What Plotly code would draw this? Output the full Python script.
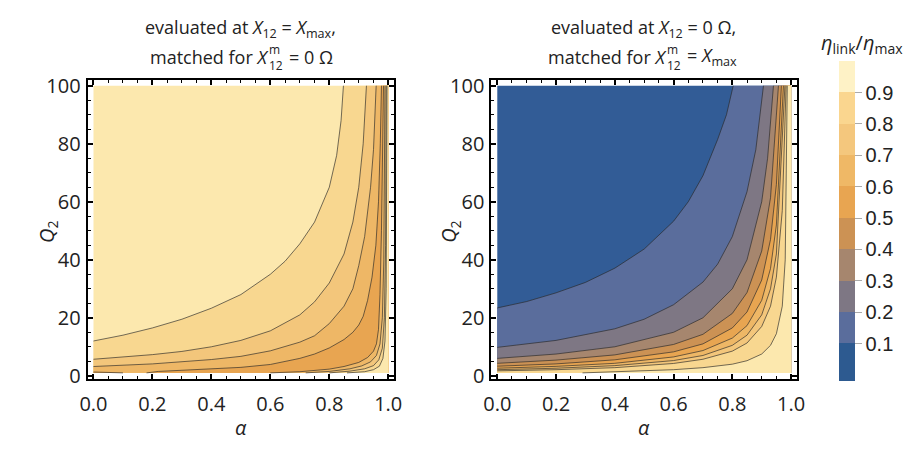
import plotly.graph_objects as go

# ---------------- data ----------------
levels = [0.1, 0.2, 0.3, 0.4, 0.5, 0.6, 0.7, 0.8, 0.9]
band_colors = ["#325C96", "#5A6D9C", "#7E7784", "#A6866E", "#CC9254",
               "#E8A551", "#EEB766", "#F3C67B", "#F8D790", "#FCE8AE"]
legend_colors = ["#2D5A90", "#5A6D9C", "#7E7784", "#A6866E", "#CC9254",
                 "#E8A551", "#EFB866", "#F4C77D", "#FAD68F", "#FEF2C6"]
alpha_lim = [0.0, 1.0]
q2_lim = [1.0, 100.0]

# left panel contours (alpha, Q2)
LA_a = [0.0, 0.1, 0.2, 0.3, 0.4, 0.5, 0.6, 0.65, 0.7, 0.75, 0.8, 0.825, 0.84, 0.848]
LA_q = [12.0, 14.0, 16.5, 19.5, 23.3, 28.0, 35.0, 39.5, 45.5, 53.0, 65.0, 76.0, 88.0, 100.0]
LB_a = [0.0, 0.1, 0.2, 0.3, 0.4, 0.5, 0.6, 0.7, 0.75, 0.8, 0.85, 0.88, 0.9, 0.915, 0.926]
LB_q = [5.7, 6.4, 7.3, 8.4, 10.0, 12.2, 15.5, 21.0, 25.5, 32.0, 42.0, 53.0, 65.0, 80.0, 100.0]
LC_a = [0.0, 0.2, 0.4, 0.5, 0.6, 0.7, 0.75, 0.8, 0.85, 0.88, 0.9, 0.92, 0.94, 0.95, 0.959]
LC_q = [3.2, 4.1, 5.6, 6.7, 8.6, 11.6, 13.8, 18.0, 24.0, 30.0, 38.0, 48.0, 65.0, 78.0, 100.0]
LD0_a = [0.0, 0.05, 0.1]
LD0_q = [1.3, 1.2, 1.0]
LD_a = [0.18, 0.22, 0.3, 0.4, 0.5, 0.6, 0.7, 0.75, 0.8, 0.85, 0.88, 0.9, 0.915, 0.93, 0.945, 0.958, 0.967, 0.973, 0.977]
LD_q = [1.0, 1.5, 1.9, 2.3, 2.9, 3.9, 6.0, 7.5, 9.6, 12.5, 15.0, 17.5, 20.5, 26.0, 34.0, 45.0, 60.0, 80.0, 100.0]
LE_a = [0.6, 0.7, 0.8, 0.85, 0.9, 0.93, 0.95, 0.96, 0.967, 0.972, 0.977, 0.981, 0.984]
LE_q = [1.0, 1.4, 2.3, 3.2, 4.6, 6.3, 8.5, 11.0, 16.0, 28.0, 50.0, 75.0, 100.0]
LF_a = [0.72, 0.8, 0.87, 0.91, 0.94, 0.96, 0.972, 0.98, 0.985, 0.989]
LF_q = [1.0, 1.5, 2.4, 3.4, 4.8, 7.0, 11.0, 20.0, 40.0, 100.0]
LG_a = [0.8, 0.87, 0.92, 0.95, 0.968, 0.98, 0.987, 0.991, 0.993]
LG_q = [1.0, 1.6, 2.4, 3.5, 5.5, 9.5, 20.0, 45.0, 100.0]
LH_a = [0.86, 0.92, 0.95, 0.97, 0.982, 0.989, 0.993, 0.996]
LH_q = [1.0, 1.4, 2.1, 3.3, 6.0, 12.0, 30.0, 100.0]

# right panel contours, levels 0.1 ... 0.9
R1_a = [0.0, 0.1, 0.2, 0.3, 0.4, 0.5, 0.6, 0.65, 0.7, 0.75, 0.78, 0.803]
R1_q = [23.4, 25.6, 28.6, 32.2, 37.1, 43.7, 53.3, 60.0, 69.0, 81.5, 90.0, 100.0]
R2_a = [0.0, 0.2, 0.4, 0.5, 0.6, 0.7, 0.75, 0.8, 0.85, 0.88, 0.906]
R2_q = [9.8, 12.2, 16.2, 19.5, 24.5, 32.3, 38.5, 48.0, 63.5, 78.0, 100.0]
R3_a = [0.0, 0.2, 0.4, 0.6, 0.7, 0.8, 0.85, 0.9, 0.92, 0.94]
R3_q = [6.0, 7.5, 10.0, 15.0, 20.0, 30.0, 40.0, 60.0, 75.0, 100.0]
R4_a = [0.0, 0.2, 0.4, 0.6, 0.7, 0.8, 0.85, 0.9, 0.93, 0.957]
R4_q = [4.3, 5.4, 7.2, 10.8, 14.3, 21.5, 28.7, 43.0, 61.4, 100.0]
R5_a = [0.0, 0.2, 0.4, 0.6, 0.7, 0.8, 0.85, 0.9, 0.93, 0.95, 0.967]
R5_q = [3.3, 4.1, 5.5, 8.25, 11.0, 16.5, 22.0, 33.0, 47.0, 66.0, 100.0]
R6_a = [0.0, 0.2, 0.4, 0.6, 0.7, 0.8, 0.85, 0.9, 0.93, 0.95, 0.974]
R6_q = [2.6, 3.25, 4.3, 6.5, 8.7, 13.0, 17.3, 26.0, 37.0, 52.0, 100.0]
R7_a = [0.0, 0.2, 0.4, 0.6, 0.7, 0.8, 0.85, 0.9, 0.93, 0.95, 0.979]
R7_q = [2.1, 2.6, 3.5, 5.25, 7.0, 10.5, 14.0, 21.0, 30.0, 42.0, 100.0]
R8_a = [0.0, 0.2, 0.4, 0.6, 0.7, 0.8, 0.85, 0.9, 0.93, 0.95, 0.97, 0.983]
R8_q = [1.7, 2.1, 2.8, 4.25, 5.7, 8.5, 11.3, 17.0, 24.0, 34.0, 57.0, 100.0]
R9_a = [0.29, 0.4, 0.6, 0.7, 0.8, 0.85, 0.9, 0.93, 0.95, 0.97, 0.98, 0.987]
R9_q = [1.0, 1.3, 2.1, 2.8, 4.0, 5.2, 7.5, 10.5, 14.5, 24.0, 40.0, 100.0]

alpha_ticks = [0.0, 0.2, 0.4, 0.6, 0.8, 1.0]
q2_ticks = [0, 20, 40, 60, 80, 100]

# ---------------- figure ----------------
fig = go.Figure()
line_col = "rgba(40,40,40,0.65)"


def region(a, q):
    xs = list(a) + [alpha_lim[1], alpha_lim[1]]
    ys = list(q) + [q2_lim[1], q2_lim[0]]
    if a[0] == alpha_lim[0] and q[0] > q2_lim[0]:
        xs.append(alpha_lim[0])
        ys.append(q2_lim[0])
    xs.append(a[0])
    ys.append(q[0])
    return xs, ys


def add_fill(xs, ys, color, xa, ya):
    fig.add_trace(go.Scatter(x=xs, y=ys, mode="lines", fill="toself", fillcolor=color,
                             line=dict(width=0, color=color), hoverinfo="skip",
                             showlegend=False, xaxis=xa, yaxis=ya))


def add_line(a, q, xa, ya):
    fig.add_trace(go.Scatter(x=a, y=q, mode="lines", line=dict(width=1, color=line_col),
                             hoverinfo="skip", showlegend=False, xaxis=xa, yaxis=ya))


rect_x = [alpha_lim[0], alpha_lim[1], alpha_lim[1], alpha_lim[0], alpha_lim[0]]
rect_y = [q2_lim[0], q2_lim[0], q2_lim[1], q2_lim[1], q2_lim[0]]

# left panel
add_fill(rect_x, rect_y, band_colors[9], "x", "y")
left_desc = [(LA_a, LA_q, 8), (LB_a, LB_q, 7), (LC_a, LC_q, 6), (LD_a, LD_q, 5)]
for a, q, c in left_desc:
    xs, ys = region(a, q)
    add_fill(xs, ys, band_colors[c], "x", "y")
add_fill(LD0_a + [alpha_lim[0], LD0_a[0]], LD0_q + [q2_lim[0], LD0_q[0]], band_colors[5], "x", "y")
left_rise = [(LE_a, LE_q, 6), (LF_a, LF_q, 7), (LG_a, LG_q, 8), (LH_a, LH_q, 9)]
for a, q, c in left_rise:
    xs, ys = region(a, q)
    add_fill(xs, ys, band_colors[c], "x", "y")
for a, q, _ in left_desc + left_rise:
    add_line(a, q, "x", "y")
add_line(LD0_a, LD0_q, "x", "y")

# right panel
add_fill(rect_x, rect_y, band_colors[0], "x2", "y2")
right_curves = [(R1_a, R1_q), (R2_a, R2_q), (R3_a, R3_q), (R4_a, R4_q), (R5_a, R5_q),
                (R6_a, R6_q), (R7_a, R7_q), (R8_a, R8_q), (R9_a, R9_q)]
for i, (a, q) in enumerate(right_curves):
    xs, ys = region(a, q)
    add_fill(xs, ys, band_colors[i + 1], "x2", "y2")
for a, q in right_curves:
    add_line(a, q, "x2", "y2")

# colour bar
cmin, cmax = -0.02, 1.0
edges = [cmin] + levels + [cmax]
cs = []
for i, col in enumerate(legend_colors):
    lo = (edges[i] - cmin) / (cmax - cmin)
    hi = (edges[i + 1] - cmin) / (cmax - cmin)
    cs.append([lo, col])
    cs.append([hi, col])
fig.add_trace(go.Scatter(
    x=[None], y=[None], mode="markers", showlegend=False, hoverinfo="skip",
    marker=dict(color=[0.5], colorscale=cs, cmin=cmin, cmax=cmax, showscale=True,
                colorbar=dict(thickness=16, lenmode="pixels", len=320, y=1 - 222 / 452,
                              yanchor="middle", x=846 / 916, xanchor="left", xpad=0, ypad=0,
                              outlinewidth=0, tickvals=levels, ticks="outside", ticklen=7,
                              tickcolor="#aaaaaa",
                              tickfont=dict(family="Liberation Sans, Arial", size=20, color="#222")))))

W, H = 916, 452
ax_common = dict(showgrid=False, zeroline=False, showline=True, linewidth=2, linecolor="black",
                 mirror="allticks", ticks="inside", ticklen=5, tickwidth=1.5, tickcolor="black",
                 tickfont=dict(family="Open Sans", size=20, color="#222"))
xminor = dict(ticks="inside", ticklen=3, tickwidth=1, tickcolor="black", dtick=0.05, tick0=0)
yminor = dict(ticks="inside", ticklen=3, tickwidth=1, tickcolor="black", dtick=5, tick0=0)
fig.update_layout(
    width=W, height=H, margin=dict(l=0, r=0, t=0, b=0),
    paper_bgcolor="white", plot_bgcolor="white",
    xaxis=dict(domain=[81 / W, 393 / W], range=[-0.02, 1.02], tickvals=alpha_ticks,
               ticktext=["%.1f" % v for v in alpha_ticks], anchor="y", minor=xminor,
               ticklabelstandoff=6, **ax_common),
    yaxis=dict(domain=[1 - 386 / H, 1 - 75 / H], range=[-0.98, 101.98], tickvals=q2_ticks, anchor="x",
               minor=yminor, ticklabelstandoff=1, **ax_common),
    xaxis2=dict(domain=[492 / W, 803 / W], range=[-0.02, 1.02], tickvals=alpha_ticks,
                ticktext=["%.1f" % v for v in alpha_ticks], anchor="y2", minor=xminor,
                ticklabelstandoff=6, **ax_common),
    yaxis2=dict(domain=[1 - 386 / H, 1 - 75 / H], range=[-0.98, 101.98], tickvals=q2_ticks, anchor="x2",
                minor=yminor, ticklabelstandoff=1, **ax_common),
)

tfont = dict(family="Open Sans", size=18, color="#222")
sfont = dict(family="Open Sans", size=12, color="#222")


def txt(x, y, text, anchor="center", font=tfont):
    fig.add_annotation(xref="paper", yref="paper", x=x / W, y=1 - y / H, text=text,
                       xanchor=anchor, yanchor="middle", showarrow=False, font=font)


txt(237, 21, "evaluated at <i>X</i><sub>12</sub> = <i>X</i><sub>max</sub>,")
txt(267, 51, "matched for <i>X</i>", "right")
txt(264, 43, "m", "left", sfont)
txt(264, 60, "12", "left", sfont)
txt(284, 51, "= 0 Ω", "left")
txt(647, 21, "evaluated at <i>X</i><sub>12</sub> = 0 Ω,")
txt(672, 51, "matched for <i>X</i>", "right")
txt(669, 43, "m", "left", sfont)
txt(669, 60, "12", "left", sfont)
txt(689, 51, "= <i>X</i><sub>max</sub>", "left")

afont = dict(family="Open Sans", size=20, color="#222")
txt(237, 437, "<i>α</i>", font=afont)
txt(647, 437, "<i>α</i>", font=afont)
fig.add_annotation(xref="paper", yref="paper", x=40 / W, y=1 - 233 / H, text="<i>Q</i><sub>2</sub>",
                   showarrow=False, font=afont, xanchor="center", yanchor="middle", textangle=-90)
fig.add_annotation(xref="paper", yref="paper", x=450 / W, y=1 - 233 / H, text="<i>Q</i><sub>2</sub>",
                   showarrow=False, font=afont, xanchor="center", yanchor="middle", textangle=-90)
txt(869, 37, "<i>η</i><sub>link</sub>/<i>η</i><sub>max</sub>", font=dict(family="Open Sans", size=20, color="#222"))

fig.write_html("out.html")
